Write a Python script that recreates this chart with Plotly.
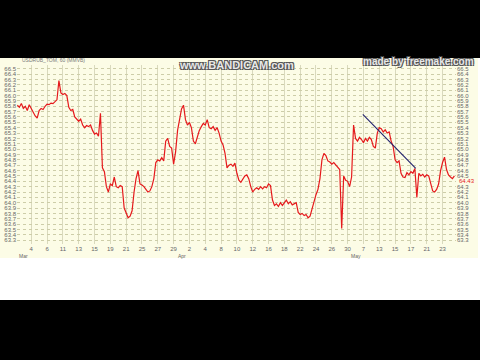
import plotly.graph_objects as go
import numpy as np

# hourly-ish USDRUB quotes, 4 samples per trading day, starting 0.75 day before the "4" tick
usdrub = [
    65.82, 65.78, 65.85, 65.76, 65.80, 65.72, 65.83, 65.75, 65.70, 65.62,
    65.58, 65.72, 65.76, 65.74, 65.80, 65.84, 65.83, 65.86, 65.85, 65.88,
    65.92, 66.28, 66.05, 66.02, 66.04, 66.00, 65.78, 65.72, 65.74, 65.60,
    65.55, 65.52, 65.56, 65.45, 65.40, 65.44, 65.42, 65.45, 65.35, 65.28,
    65.30, 65.24, 65.67, 64.65, 64.58, 64.30, 64.20, 64.35, 64.32, 64.48,
    64.30, 64.28, 64.32, 64.30, 63.90, 63.80, 63.72, 63.75, 63.85, 64.20,
    64.45, 64.60, 64.35, 64.33, 64.30, 64.25, 64.20, 64.22, 64.30, 64.45,
    64.75, 64.80, 64.78, 64.84, 64.78, 65.15, 65.20, 65.05, 65.02, 64.72,
    64.95, 65.35, 65.55, 65.75, 65.82, 65.55, 65.45, 65.50, 65.40, 65.15,
    65.10, 65.25, 65.35, 65.42, 65.48, 65.45, 65.55, 65.40, 65.38, 65.42,
    65.35, 65.40, 65.30, 65.15, 65.08, 64.92, 64.65, 64.70, 64.72, 64.68,
    64.74, 64.55, 64.42, 64.38, 64.45, 64.50, 64.52, 64.45, 64.30, 64.20,
    64.25, 64.28, 64.25, 64.30, 64.26, 64.30, 64.28, 64.35, 64.32, 64.05,
    63.95, 63.98, 63.93, 64.00, 63.95, 64.00, 64.05, 63.98, 64.02, 63.96,
    63.98, 64.00, 63.82, 63.78, 63.80, 63.76, 63.78, 63.72, 63.75, 63.90,
    64.05, 64.15, 64.25, 64.45, 64.80, 64.92, 64.88, 64.78, 64.76, 64.72,
    64.75, 64.70, 64.66, 64.62, 63.52, 64.50, 64.42, 64.40, 64.30, 64.48,
    65.45, 65.20, 65.15, 65.22, 65.18, 65.12, 65.20, 65.15, 65.22, 65.18,
    65.05, 65.02, 65.30, 65.40, 65.38, 65.32, 65.36, 65.30, 65.32, 65.15,
    65.05, 64.80, 64.75, 64.78, 64.55, 64.48, 64.47, 64.56, 64.52, 64.58,
    64.55, 64.64, 64.10, 64.55, 64.50, 64.53, 64.48, 64.52, 64.50, 64.35,
    64.22, 64.20, 64.25, 64.35, 64.60, 64.75, 64.85, 64.62, 64.52, 64.48,
    64.45, 64.50,
]
samples_per_day = 4
start_offset = -0.75

# day-of-month tick labels (every 2nd trading day)
tick_days = ["4", "6", "11", "13", "15", "19", "21", "25", "27", "29",
             "2", "4", "8", "10", "12", "16", "18", "22", "24", "26", "30",
             "7", "13", "15", "17", "21", "23"]
tick_index = list(range(1, 54, 2))

months = ["Mar", "Apr", "May"]
month_first_index = [0, 20, 42]

# price axis labels 63.3 ... 66.5
price_ticks = [round(63.3 + 0.1 * k, 1) for k in range(33)]

trend_x = [42.92, 49.61]
trend_y = [65.65, 64.64]

last_price_label = "64.43"
last_price = 64.40

x = start_offset + np.arange(len(usdrub)) / samples_per_day

CREAM = "#fcfce6"
fig = go.Figure()
fig.add_trace(go.Scatter(x=x, y=usdrub, mode="lines",
                         line=dict(color="#e5191c", width=1.2), showlegend=False))
fig.add_trace(go.Scatter(x=trend_x, y=trend_y, mode="lines",
                         line=dict(color="#22226e", width=1.1), showlegend=False))
fig.add_trace(go.Scatter(x=[None], y=[None], yaxis="y2", showlegend=False))

W, H = 480, 360
L, R, T, B = 17, 24, 65, 116
pw, ph = W - L - R, H - T - B


def px_x(p):
    return (p - L) / pw


def px_y(p):
    return (H - B - p) / ph


shapes = [
    dict(type="rect", xref="paper", yref="paper", layer="below",
         x0=px_x(0), x1=px_x(W), y0=px_y(300), y1=px_y(58),
         fillcolor="white", line=dict(width=0)),
    dict(type="rect", xref="paper", yref="paper", layer="below",
         x0=px_x(0), x1=px_x(478), y0=px_y(258), y1=px_y(58),
         fillcolor=CREAM, line=dict(width=0)),
]

tickfont = dict(family="Liberation Sans, Arial", size=6, color="#666")
yrange = [63.23, 66.57]

right_ticks = [v for v in price_ticks if abs(v - last_price) > 0.05]

annotations = []
for m, idx in zip(months, month_first_index):
    annotations.append(dict(x=idx, y=px_y(256), xref="x", yref="paper", text=m,
                            showarrow=False, xanchor="center", yanchor="middle",
                            font=dict(family="Liberation Sans, Arial", size=5, color="#666")))
annotations.append(dict(x=px_x(20), y=px_y(60), xref="paper", yref="paper",
                        text="USDRUB_TOM, 60 (MMVB)", showarrow=False,
                        xanchor="left", yanchor="middle",
                        font=dict(family="Liberation Sans, Arial", size=5, color="#777")))
annotations.append(dict(x=px_x(457), y=last_price, xref="paper", yref="y",
                        text=last_price_label, showarrow=False,
                        xanchor="left", yanchor="middle",
                        font=dict(family="Liberation Sans, Arial", size=6, color="#e5191c")))
wm_shadow = "-1px -1px 0 #555, 1px -1px 0 #555, -1px 1px 0 #555, 1px 1px 0 #555"
annotations.append(dict(x=px_x(236), y=px_y(65), xref="paper", yref="paper",
                        text="www.BANDICAM.com", showarrow=False,
                        xanchor="center", yanchor="middle",
                        font=dict(family="Liberation Sans, Arial", size=11, color="#e8e8e8",
                                  weight="bold", shadow=wm_shadow)))
annotations.append(dict(x=px_x(418), y=px_y(61.5), xref="paper", yref="paper",
                        text="made by freemake.com", showarrow=False,
                        xanchor="center", yanchor="middle",
                        font=dict(family="Liberation Sans, Arial", size=10, color="#e8e8e8",
                                  weight="bold", shadow=wm_shadow)))

fig.update_layout(
    width=W, height=H,
    margin=dict(l=L, r=R, t=T, b=B, pad=0, autoexpand=False),
    paper_bgcolor="black",
    plot_bgcolor=CREAM,
    shapes=shapes,
    annotations=annotations,
    xaxis=dict(range=[-0.8, 54.7], tickvals=tick_index, ticktext=tick_days,
               tickfont=tickfont, ticks="", showgrid=True, gridcolor="#d9d9bd",
               gridwidth=1, zeroline=False, showline=False, fixedrange=True),
    yaxis=dict(range=yrange, tickvals=price_ticks, tickformat=".1f",
               tickfont=tickfont, ticks="", zeroline=False, showline=False,
               side="left", showgrid=True, gridcolor="#cdcda8",
               griddash="dot", gridwidth=1, fixedrange=True),
    yaxis2=dict(range=yrange, tickvals=right_ticks, tickformat=".1f",
                tickfont=tickfont, ticks="", zeroline=False, showline=False,
                side="right", overlaying="y", showgrid=False, fixedrange=True),
    showlegend=False,
)

fig.write_html("out.html", config={"displayModeBar": False})
